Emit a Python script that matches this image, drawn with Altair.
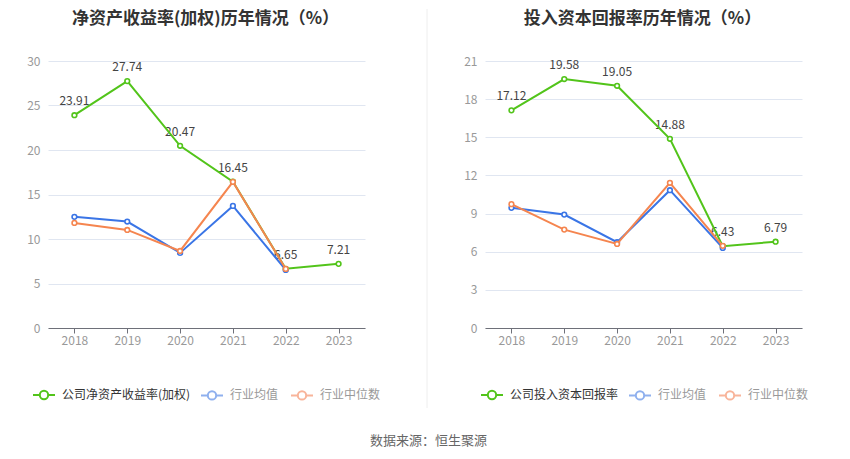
import altair as alt
import pandas as pd

FONT = "Noto Sans CJK SC"

years = ["2018", "2019", "2020", "2021", "2022", "2023"]

roe_company = [23.91, 27.74, 20.47, 16.45, 6.65, 7.21]
roe_avg = [12.49, 11.96, 8.44, 13.72, 6.52]
roe_median = [11.81, 11.02, 8.66, 16.42, 6.64]

roic_company = [17.12, 19.58, 19.05, 14.88, 6.43, 6.79]
roic_avg = [9.45, 8.92, 6.75, 10.84, 6.30]
roic_median = [9.74, 7.74, 6.61, 11.42, 6.46]

left_names = ["公司净资产收益率(加权)", "行业均值", "行业中位数"]
right_names = ["公司投入资本回报率", "行业均值", "行业中位数"]
left_title = "净资产收益率(加权)历年情况（%）"
right_title = "投入资本回报率历年情况（%）"
left_ticks = [0, 5, 10, 15, 20, 25, 30]
right_ticks = [0, 3, 6, 9, 12, 15, 18, 21]
source_text = "数据来源：恒生聚源"

line_colors = ["#52c41a", "#3a75e6", "#f5854f"]
legend_colors = ["#52c41a", "#8fb0ee", "#f8b49a"]

SYM = "M-1,0L-0.38,0M0.38,0L1,0M0.38,0A0.38,0.38,0,1,1,-0.38,0A0.38,0.38,0,1,1,0.38,0Z"

W, H = 317, 267
NOVIEW = alt.ViewBackground(stroke="transparent", strokeWidth=0)


def legend_def(lx, color):
    return alt.Legend(title=None, orient="none", legendX=lx, legendY=322, direction="horizontal",
                      symbolType=SYM, symbolSize=484, symbolStrokeWidth=2, symbolFillColor="white",
                      symbolOpacity=1, labelFont=FONT, labelFontSize=12, labelColor=color,
                      labelOffset=6, columnPadding=8, padding=0)


def panel(names, comp, avg, med, title, ticks, lxa, lxb, title_dx):
    rows = []
    for s, vals in zip(names, [comp, avg, med]):
        for yr, v in zip(years, vals):
            rows.append({"year": yr, "value": v, "series": s})
    df = pd.DataFrame(rows)
    base = alt.Chart(df)
    x = alt.X("year:O", scale=alt.Scale(type="point", padding=0.5, domain=years),
              axis=alt.Axis(title=None, labelAngle=0, labelColor="#999999", labelFontSize=12,
                            labelFont=FONT, domainColor="#6e7079", tickColor="#6e7079",
                            tickSize=5, labelPadding=2, grid=False))
    y = alt.Y("value:Q", scale=alt.Scale(domain=[ticks[0], ticks[-1]], nice=False, zero=True),
              axis=alt.Axis(title=None, values=ticks, grid=True, gridColor="#e0e6f1", domain=False,
                            ticks=False, labelColor="#999999", labelFontSize=12, labelFont=FONT,
                            labelPadding=8, minExtent=40, maxExtent=40))
    layers = []
    layers.append(base.transform_filter(alt.datum.series == names[0]).mark_text(
        dy=-14, fontSize=12, font=FONT, color="#444444").encode(
        x=x, y=y, text=alt.Text("value:Q", format=".2f")))
    for s, c in zip(names, line_colors):
        sub = base.transform_filter(alt.datum.series == s)
        layers.append(sub.mark_line(strokeWidth=2, color=c).encode(x=x, y=y))
        layers.append(sub.mark_point(filled=False, color=c, fill="white", fillOpacity=1, opacity=1,
                                     size=22, strokeWidth=1.6).encode(x=x, y=y))
    # legend: company series (dark label)
    layers.append(base.transform_filter(alt.datum.series == names[0]).mark_point(
        shape=SYM, filled=False, fill="white", size=484, strokeWidth=2, opacity=0).encode(
        x=x, y=y,
        stroke=alt.Stroke("series:N", scale=alt.Scale(domain=names[:1], range=legend_colors[:1]),
                          legend=legend_def(lxa, "#333333"))))
    # legend: industry series (grey labels)
    layers.append(base.transform_filter(alt.datum.series != names[0]).mark_point(
        shape=SYM, filled=False, fill="white", size=484, strokeWidth=2, opacity=0).encode(
        x=x, y=y,
        color=alt.Color("series:N", scale=alt.Scale(domain=names[1:], range=legend_colors[1:]),
                        legend=legend_def(lxb, "#999999"))))
    return alt.layer(*layers).properties(
        width=W, height=H, view=NOVIEW,
        title=alt.TitleParams(title, fontSize=17, fontWeight="bold", color="#333333", font=FONT,
                              anchor="middle", offset=27, dx=title_dx, frame="group"))


left = panel(left_names, roe_company, roe_avg, roe_median, left_title, left_ticks, -16, 152, -1)
right = panel(right_names, roic_company, roic_avg, roic_median, right_title, right_ticks, -5, 143, -1)

divider = alt.Chart(pd.DataFrame({"d": [0]})).mark_rule(color="#eeeeee", strokeWidth=1).encode(
    x=alt.value(34), y=alt.value(-52), y2=alt.value(347)).properties(
    width=40, height=H, view=NOVIEW)

chart = alt.hconcat(left, divider, right, spacing=12).resolve_scale(
    color="independent", stroke="independent", x="independent", y="independent"
).resolve_legend(stroke="independent", color="independent").properties(
    title=alt.TitleParams(source_text, orient="bottom", anchor="middle", fontSize=13,
                          fontWeight="normal", color="#666666", font=FONT, offset=26, dx=20),
    padding={"left": 0, "top": 0, "right": 0, "bottom": 0}
).configure(background="white").configure_view(stroke="transparent", strokeWidth=0)

chart.save("out.html", embed_options={"renderer": "svg", "actions": False})
